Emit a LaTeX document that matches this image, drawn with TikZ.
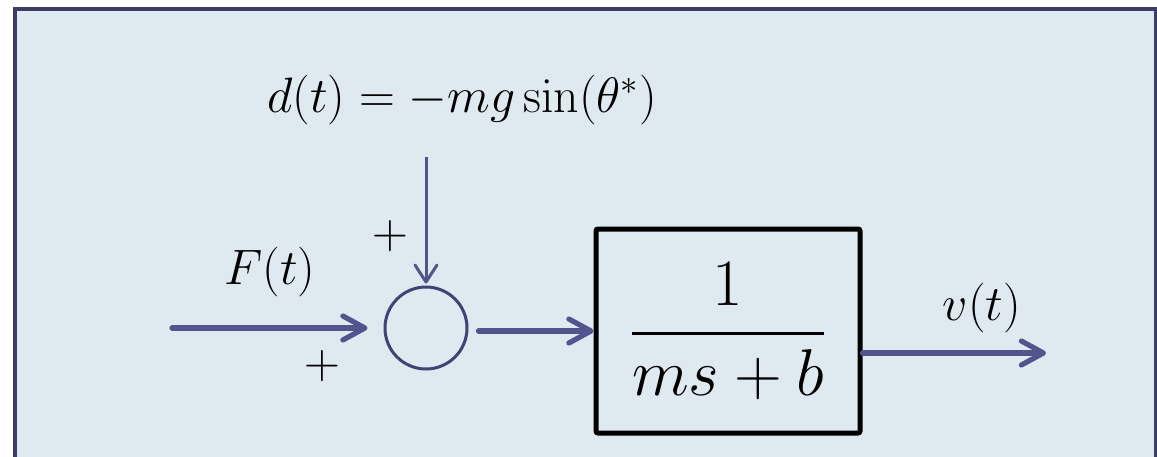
\documentclass[tikz,border=0pt]{standalone}
\usepackage{amsmath}
\usepackage{graphicx}
\usepackage{xcolor}
\usepackage{tikz}
\usetikzlibrary{arrows.meta,calc,positioning}
\definecolor{panelfill}{HTML}{DFE9F0}
\definecolor{panelline}{HTML}{3B3D68}
\definecolor{signal}{HTML}{50558E}
\definecolor{junction}{HTML}{3F4476}
\tikzset{
  panel/.style={draw=panelline, line width=2pt, fill=panelfill},
  sumnode/.style={
    circle,
    draw=junction,
    line width=1.5pt,
    minimum size=41pt,
    inner sep=0pt
  },
  blocknode/.style={
    draw=black,
    line width=2.5pt,
    rounded corners=1pt,
    minimum width=132pt,
    minimum height=102pt,
    inner sep=0pt,
    font=\fontsize{24}{29}\selectfont
  },
  signalbig/.style={draw=signal, line width=2.6pt, line cap=round,
    -{Straight Barb[length=11pt, width=12pt, round]}},
  signalthin/.style={draw=signal, line width=1.5pt,
    -{Straight Barb[length=8.5pt, width=11pt, round]}},
  siglabel/.style={font=\fontsize{24}{29}\selectfont, inner sep=0pt},
  signlabel/.style={font=\fontsize{24}{29}\selectfont, inner sep=0pt}
}

\begin{document}
\begin{tikzpicture}[x=0.5pt,y=-0.5pt]
\path[use as bounding box] (0,0) rectangle (1157,456);
\clip (0,0) rectangle (1157,456);
\fill[white] (0,0) rectangle (1157,456);
\draw[panel] (15,9) rectangle (1156,490);

\node[sumnode] (sum) at (426,328) {};
\node[blocknode] (blk) at (728,331) {\scalebox{1.33}{$\dfrac{1}{ms+b}$}};

\coordinate (fin) at (172,328);
\coordinate (dtop) at (426,157);
\coordinate (vout) at (1046,353);

\node[siglabel] (dlab) at (462,100) {$d(t)=-mg\sin(\theta^*)$};
\node[siglabel] (flab) at (270,272) {$F(t)$};
\node[siglabel] (vlab) at (982,308) {$v(t)$};
\node[signlabel] (ptop) at (390,236) {$+$};
\node[signlabel] (pbot) at (322,366) {$+$};

\draw[signalbig, shorten >=8pt] (fin) -- (sum.west);
\draw[signalthin, shorten >=1pt] (dtop) -- (sum.north);
\draw[signalbig, shorten <=5pt] (sum.east |- blk.west) -- (blk.west);
\draw[signalbig] (blk.east |- vout) -- (vout);

\end{tikzpicture}
\end{document}
